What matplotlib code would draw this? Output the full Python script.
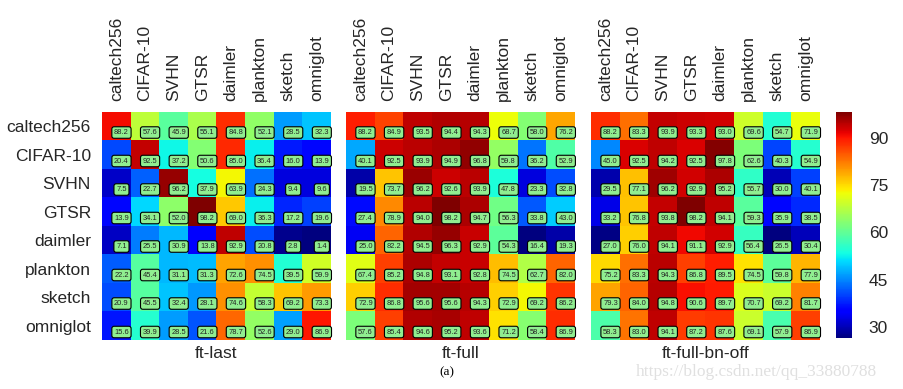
import numpy as np
import matplotlib
matplotlib.use("Agg")
import matplotlib.pyplot as plt

plt.rcParams['font.family'] = ['Liberation Sans', 'DejaVu Sans']

datasets = ['caltech256', 'CIFAR-10', 'SVHN', 'GTSR', 'daimler', 'plankton', 'sketch', 'omniglot']
titles = ['ft-last', 'ft-full', 'ft-full-bn-off']

ft_last = [
    [88.2, 57.6, 45.9, 55.1, 84.8, 52.1, 28.5, 32.3],
    [20.4, 92.5, 37.2, 50.6, 85.0, 36.4, 16.0, 13.9],
    [7.5, 22.7, 96.2, 37.9, 63.9, 24.3, 9.4, 9.6],
    [13.9, 34.1, 52.0, 98.2, 69.0, 36.3, 17.2, 19.6],
    [7.1, 25.5, 30.9, 13.8, 92.9, 20.8, 2.8, 1.4],
    [22.2, 45.4, 31.1, 31.3, 72.6, 74.5, 39.5, 59.9],
    [20.9, 45.5, 32.4, 28.1, 74.6, 58.3, 69.2, 73.3],
    [15.6, 39.9, 28.5, 21.6, 78.7, 52.6, 29.0, 86.9],
]
ft_full = [
    [88.2, 84.9, 93.5, 94.4, 94.3, 68.7, 58.0, 76.2],
    [40.1, 92.5, 93.9, 94.9, 96.8, 59.8, 36.2, 52.9],
    [19.5, 73.7, 96.2, 92.6, 93.9, 47.8, 23.3, 32.8],
    [27.4, 78.9, 94.0, 98.2, 94.7, 56.3, 33.8, 43.0],
    [25.0, 82.2, 94.5, 96.3, 92.9, 54.3, 16.4, 19.3],
    [67.4, 85.2, 94.8, 93.1, 92.8, 74.5, 62.7, 82.0],
    [72.9, 86.8, 95.6, 95.6, 94.3, 72.9, 69.2, 86.2],
    [57.6, 85.4, 94.6, 95.2, 93.6, 71.2, 58.4, 86.9],
]
ft_full_bn_off = [
    [88.2, 83.3, 93.9, 93.3, 93.0, 69.6, 54.7, 71.9],
    [45.0, 92.5, 94.2, 92.5, 97.8, 62.6, 40.3, 54.9],
    [29.5, 77.1, 96.2, 92.9, 95.2, 55.7, 30.0, 40.1],
    [33.2, 76.8, 93.8, 98.2, 94.1, 59.3, 35.9, 38.5],
    [27.0, 76.0, 94.1, 91.1, 92.9, 56.4, 26.5, 30.4],
    [75.2, 83.3, 94.3, 86.8, 89.5, 74.5, 59.8, 77.9],
    [79.3, 84.0, 94.8, 90.6, 89.7, 70.7, 69.2, 81.7],
    [58.3, 83.0, 94.1, 87.2, 87.6, 69.1, 57.9, 86.9],
]
cbar_ticks = [30, 45, 60, 75, 90]

W, H = 904, 389
fig = plt.figure(figsize=(W / 100, H / 100), dpi=100)
txt_color = '#262626'


def px_axes(x0, y0, x1, y1):
    # pixel box (top-left origin) -> figure axes
    return fig.add_axes([x0 / W, 1 - y1 / H, (x1 - x0) / W, (y1 - y0) / H])


lefts = [102, 346, 591]
mats = [ft_last, ft_full, ft_full_bn_off]
im = None
for k, (mat, title, x0) in enumerate(zip(mats, titles, lefts)):
    ax = px_axes(x0, 112, x0 + 229, 340)
    arr = np.array(mat)
    im = ax.imshow(arr, cmap='jet', aspect='auto', interpolation='nearest')
    for i in range(arr.shape[0]):
        for j in range(arr.shape[1]):
            ax.text(j + 0.18, i + 0.22, '%.1f' % arr[i, j], ha='center', va='center',
                    fontsize=5.4, color='#222222',
                    bbox=dict(boxstyle='round,pad=0.3', fc='#90ee90', ec='black', lw=0.8))
    ax.xaxis.tick_top()
    ax.set_xticks(range(len(datasets)))
    ax.set_xticklabels(datasets, rotation=90, fontsize=12.5, color=txt_color)
    ax.set_yticks(range(len(datasets)))
    if k == 0:
        ax.set_yticklabels(datasets, fontsize=12.5, color=txt_color)
    else:
        ax.set_yticklabels([])
    ax.tick_params(length=0, pad=8)
    for s in ax.spines.values():
        s.set_visible(False)
    ax.text(0.5, -0.025, title, transform=ax.transAxes, ha='center', va='top',
            fontsize=12.5, color=txt_color)

cax = px_axes(836, 112, 852, 338)
cb = fig.colorbar(im, cax=cax, ticks=cbar_ticks)
cb.outline.set_visible(False)
cb.ax.tick_params(length=0, labelsize=12.5, labelcolor=txt_color, pad=12)

fig.text(447 / W, 1 - 372 / H, '(a)', ha='center', va='center', fontsize=9.5,
         family=['Liberation Serif', 'DejaVu Serif'])
fig.text(636 / W, 1 - 372 / H, 'https://blog.csdn.net/qq_33880788', ha='left', va='center',
         fontsize=12.5, color='#e0e0e0', family=['Liberation Serif', 'DejaVu Serif'])

fig.savefig('out.png', dpi=100)
